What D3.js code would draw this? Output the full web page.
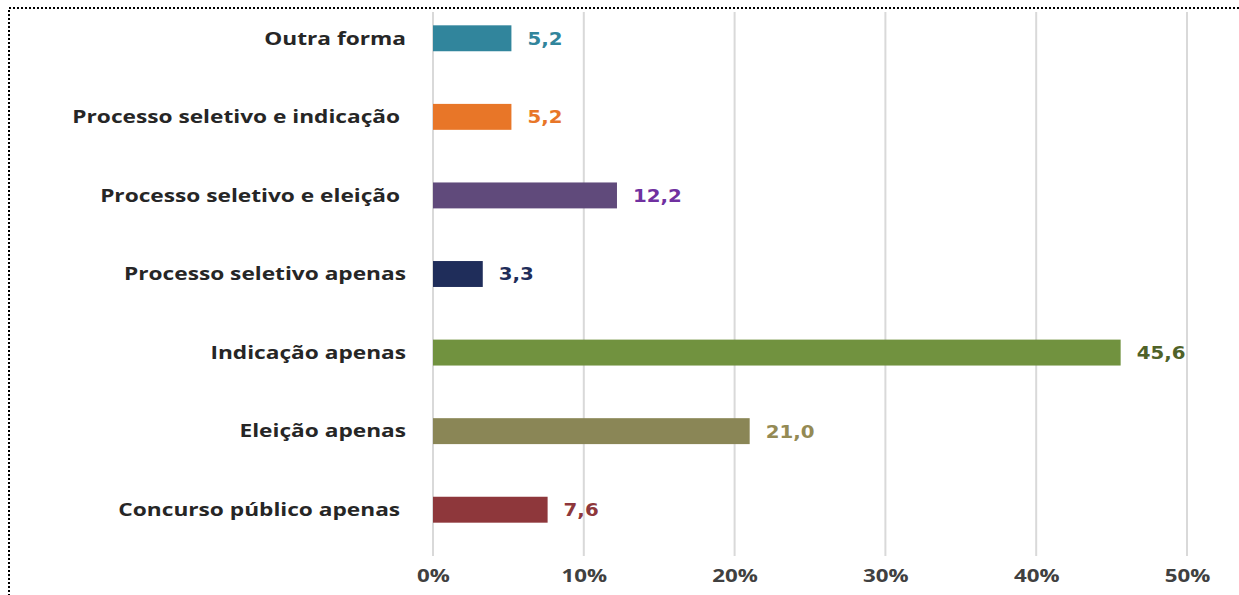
<!DOCTYPE html>
<html>
<head>
<meta charset="utf-8">
<script src="https://cdn.jsdelivr.net/npm/d3@7"></script>
<style>
	body { margin: 0; background: #fff; }
	svg { display: block; }
	.cat { font-family: "Open Sans", sans-serif; font-weight: 700; font-size: 18px; fill: #262626; white-space: pre; }
	.val { font-family: "DejaVu Sans", sans-serif; font-weight: 700; font-size: 18px; }
	.tick text { font-family: "Open Sans", sans-serif; font-weight: 700; font-size: 18px; fill: #404040; }
</style>
</head>
<body>
<script>
// categories, top to bottom
var categories = ["Outra forma", "Processo seletivo e indicação ", "Processo seletivo e eleição ",
	"Processo seletivo apenas", "Indicação apenas", "Eleição apenas", "Concurso público apenas "];
var values = [5.2, 5.2, 12.2, 3.3, 45.6, 21.0, 7.6];
var barColors = ["#31859c", "#e87628", "#604a7b", "#1f2d5a", "#71923f", "#8a8656", "#8e373b"];
var labelColors = ["#31859c", "#e87628", "#7030a0", "#1f2d5a", "#4f6228", "#948a54", "#8e373b"];
var ticks = [0, 10, 20, 30, 40, 50];

var width = 1239,
	height = 595;

var svg = d3.select("body").append("svg")
	.attr("width", width)
	.attr("height", height);

// dotted frame
svg.append("rect")
	.attr("x", 9).attr("y", 8)
	.attr("width", 1260).attr("height", 620)
	.attr("fill", "none")
	.attr("stroke", "#000")
	.attr("stroke-width", 2)
	.attr("stroke-dasharray", "2,2");

var x = d3.scaleLinear()
	.domain([0, 50])
	.range([433, 1187]);

var y = d3.scaleBand()
	.domain(categories)
	.range([-1, 549])
	.paddingInner(0.67)
	.paddingOuter(0.335);

// gridlines
svg.append("g")
	.selectAll("line")
	.data(ticks)
	.enter()
	.append("line")
	.attr("x1", d => x(d)).attr("x2", d => x(d))
	.attr("y1", 12).attr("y2", 556)
	.attr("stroke", "#d9d9d9")
	.attr("stroke-width", 2);

// x axis, labels only (text is stretched wide like the original)
var xAxis = d3.axisBottom(x)
	.tickValues(ticks)
	.tickFormat(d => d + "%")
	.tickSize(0)
	.tickPadding(0);

var xg = svg.append("g")
	.attr("class", "axis")
	.attr("transform", "translate(0,569)")
	.call(xAxis);
xg.select(".domain").remove();
xg.selectAll(".tick text").attr("transform", "scale(1.24,1)");

// bars
svg.selectAll("rect.bar")
	.data(values)
	.enter()
	.append("rect")
	.attr("class", "bar")
	.attr("x", x(0))
	.attr("y", (d, i) => y(categories[i]))
	.attr("width", d => x(d) - x(0))
	.attr("height", y.bandwidth())
	.attr("fill", (d, i) => barColors[i]);

// value labels
svg.selectAll("text.val")
	.data(values)
	.enter()
	.append("text")
	.attr("class", "val")
	.attr("transform", (d, i) => "translate(" + (x(d) + 16) + "," + (y(categories[i]) + y.bandwidth() / 2) + ") scale(1.1,1)")
	.attr("dy", "0.36em")
	.attr("fill", (d, i) => labelColors[i])
	.text(d => d3.format(".1f")(d).replace(".", ","));

// category labels
svg.selectAll("text.cat")
	.data(categories)
	.enter()
	.append("text")
	.attr("class", "cat")
	.attr("transform", d => "translate(406," + (y(d) + y.bandwidth() / 2) + ") scale(1.26,1)")
	.attr("dy", "0.35em")
	.attr("text-anchor", "end")
	.text(d => d);
</script>
</body>
</html>
